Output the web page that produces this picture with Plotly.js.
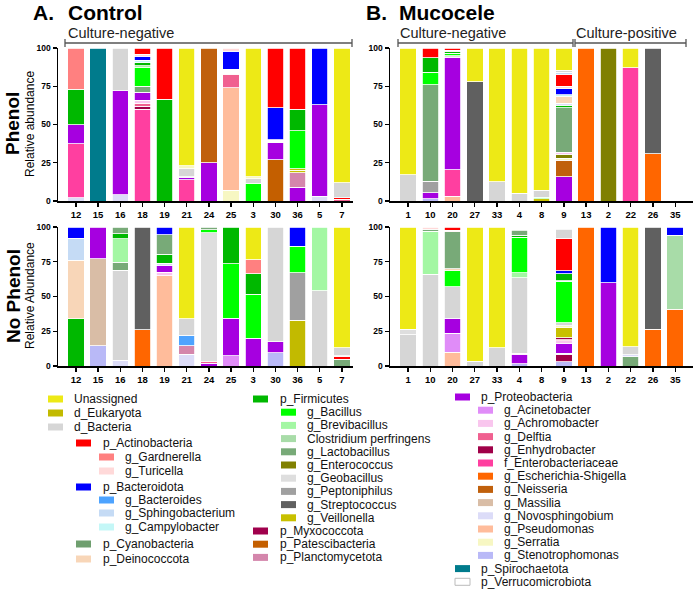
<!DOCTYPE html>
<html><head><meta charset="utf-8">
<script src="https://cdn.plot.ly/plotly-3.0.1.min.js"></script>
<style>html,body{margin:0;padding:0;background:#fff}#chart{width:700px;height:592px}</style>
</head><body><div id="chart"></div>
<script>
// ---------------- DATA ----------------
const controlSamples = ['12','15','16','18','19','21','24','25','3','30','36','5','7'];
const mucoceleSamples = ['1','10','20','27','33','4','8','9','13','2','22','26','35'];

// each bar: list of [taxon, relative abundance %] from bottom to top
const controlPhenol = [
  [['Nov',2],['Eba',35.5],['Pro',12.5],['Fir',23],['Gar',27]],
  [['Spi',100]],
  [['Nov',4],['Pro',68],['Bac',28]],
  [['Eba',60],['Enh',2],['Del',2],['Ach',2],['Pro',5],['Lac',4],['Bcl',12],['Brv',1.5],['Fir',2],['Cam',1.5],['Bct',2.5],['Tur',1.5],['Act',4]],
  [['Fir',66.5],['Act',33.5]],
  [['Eba',14],['Pro',1.5],['Ach',0.5],['Bac',5],['Ser',2],['U',77]],
  [['Pro',25],['Nei',75]],
  [['Ser',7],['Pse',67],['Del',9],['Ver',3],['Bct',12],['Tur',2]],
  [['Bcl',11.5],['Bac',3],['Ser',1.5],['U',84]],
  [['Pat',27],['Pro',11],['Ver',2],['Bct',21],['Act',39]],
  [['Pro',9],['Pla',9.5],['Vei',1.5],['Euk',1],['Bcl',25],['Fir',14],['Act',40]],
  [['Nov',3],['Pro',60],['Bct',37]],
  [['Del',1],['Act',1],['Bac',10],['U',88]]
];
const mucocelePhenol = [
  [['Bac',17],['U',83]],
  [['Ste',1.5],['Pro',4],['Pep',7.5],['Lac',63],['Bcl',8],['Fir',9.5],['Act',6.5]],
  [['Pse',3],['Eba',17.5],['Pro',73],['Geo',1.5],['Bcl',1.5],['Fir',1.5],['Tur',0.5],['Act',1.5]],
  [['Str',78],['U',22]],
  [['Bac',12.5],['U',87.5]],
  [['Bac',5],['U',95]],
  [['Vei',1.5],['Bcl',1],['Bac',4.5],['U',93]],
  [['Pro',16],['Nei',10.5],['Ser',1.5],['Ent',2.5],['Ach',1.5],['Lac',29],['Fir',1.5],['Nov',1.5],['Dei',4.5],['Cam',1],['Bct',4],['Tur',1.5],['Act',7.5],['Sph',1.5],['Bac',1.5],['U',14.5]],
  [['Esc',100]],
  [['Ent',100]],
  [['Eba',87],['U',13]],
  [['Esc',31],['Str',69]],
  []
];
const controlNoPhenol = [
  [['Fir',34],['Dei',42],['Sph',16],['Bct',8]],
  [['Ste',14.5],['Mas',62.5],['Pro',23]],
  [['Nov',4],['Bac',65],['Lac',5.5],['Brv',17],['Fir',3.5],['Lac',5]],
  [['Esc',26],['Str',74]],
  [['Pse',65],['Ach',2.5],['Pro',4.5],['Nov',2],['Fir',6.5],['Lac',14],['Bct',5.5]],
  [['Nov',8.5],['Pla',6],['Bcd',7.5],['Bac',12],['U',66]],
  [['Pro',2],['Del',1],['Geo',93],['Bcl',2],['Lac',2]],
  [['Aci',7.5],['Pro',27],['Bcl',39],['Fir',26.5]],
  [['Pro',20],['Bcl',31.5],['Fir',15],['Gar',10],['U',23.5]],
  [['Ste',9.5],['Pro',8],['Bac',82.5]],
  [['Euk',33],['Pep',34],['Bcl',19],['Bct',14]],
  [['Bac',54],['Brv',46]],
  [['Lac',5],['Act',1.5],['Tur',1],['Bac',5.5],['U',87]]
];
const mucoceleNoPhenol = [
  [['Bac',22.5],['Geo',4],['U',73.5]],
  [['Bac',66],['Brv',31],['Lac',1.5],['Tur',1.5]],
  [['Pse',10],['Aci',13.5],['Pro',11],['Bac',22.5],['Bcl',11.5],['Dei',1.5],['Lac',26.5],['Tur',1],['Act',2.5]],
  [['Bac',3.5],['U',96.5]],
  [['Bac',13],['U',87]],
  [['Ste',1.5],['Pro',6.5],['Ach',1],['Bac',54.5],['Brv',3.5],['Bcl',25.5],['Fir',1.5],['Lac',3.5]],
  [],
  [['Ste',3],['Enh',5],['Nov',1],['Pro',7.5],['Ach',1.5],['Del',1],['Myx',1.5],['Vei',7.5],['Ser',1],['Bac',2],['Bcl',29.5],['Cam',1],['Fir',5],['Bct',2],['Act',23.5],['Bac',6.5]],
  [['Esc',100]],
  [['Pro',60],['Bct',40]],
  [['Lac',6.5],['Nov',1.5],['Bac',6],['U',86]],
  [['Esc',26.5],['Str',73.5]],
  [['Esc',41],['Clo',53],['Bct',6]]
];

// legend labels (column by column)
const legendCol1 = [['U','Unassigned'],['Euk','d_Eukaryota'],['Bac','d_Bacteria'],['Act','p_Actinobacteria'],['Gar','g_Gardnerella'],['Tur','g_Turicella'],['Bct','p_Bacteroidota'],['Bcd','g_Bacteroides'],['Sph','g_Sphingobacterium'],['Cam','g_Campylobacter'],['Cya','p_Cyanobacteria'],['Dei','p_Deinococcota']];
const legendCol2 = [['Fir','p_Firmicutes'],['Bcl','g_Bacillus'],['Brv','g_Brevibacillus'],['Clo','Clostridium perfringens'],['Lac','g_Lactobacillus'],['Ent','g_Enterococcus'],['Geo','g_Geobacillus'],['Pep','g_Peptoniphilus'],['Str','g_Streptococcus'],['Vei','g_Veillonella'],['Myx','p_Myxococcota'],['Pat','p_Patescibacteria'],['Pla','p_Planctomycetota']];
const legendCol3 = [['Pro','p_Proteobacteria'],['Aci','g_Acinetobacter'],['Ach','g_Achromobacter'],['Del','g_Delftia'],['Enh','g_Enhydrobacter'],['Eba','f_Enterobacteriaceae'],['Esc','g_Escherichia-Shigella'],['Nei','g_Neisseria'],['Mas','g_Massilia'],['Nov','g_Novosphingobium'],['Pse','g_Pseudomonas'],['Ser','g_Serratia'],['Ste','g_Stenotrophomonas'],['Spi','p_Spirochaetota'],['Ver','p_Verrucomicrobiota']];

// ---------------- STYLE ----------------
const COLORS = {U:'#ede916',Euk:'#c2ba00',Bac:'#d6d6d6',Act:'#ff0000',Gar:'#ff8080',Tur:'#ffd9d9',Bct:'#0000ff',Bcd:'#4da3ff',Sph:'#c5dbf5',Cam:'#c4f7f7',Cya:'#6f9f6f',Dei:'#f8d6b8',
 Fir:'#00b800',Bcl:'#00ff00',Brv:'#a3f7a3',Clo:'#a8dca8',Lac:'#78aa78',Ent:'#808000',Geo:'#dedede',Pep:'#a0a0a0',Str:'#606060',Vei:'#c8c000',Myx:'#a0004c',Pat:'#c45f00',Pla:'#d486ac',
 Pro:'#a600e0',Aci:'#e08cf8',Ach:'#f9c6ee',Del:'#f06090',Enh:'#a00048',Eba:'#ff3fa0',Esc:'#ff6600',Nei:'#c0600c',Mas:'#d9bda6',Nov:'#dcdcf8',Pse:'#ffbc9b',Ser:'#f7f7c3',Ste:'#b9b9f7',Spi:'#007b8c',Ver:'#ffffff'};
const FONT = 'Liberation Sans, Arial, Helvetica, sans-serif';
const W = 700, H = 592;
const px = x => x / W, py = y => 1 - y / H;

const traces = [];
function addPanel(bars, samples, xa, ya) {
  const n = Math.max(...bars.map(b => b.length));
  for (let k = 0; k < n; k++) {
    traces.push({
      type: 'bar', x: samples,
      y: bars.map(b => b[k] ? b[k][1] : null),
      marker: {color: bars.map(b => b[k] ? COLORS[b[k][0]] : '#fff'), line: {color: '#fff', width: 0.8}},
      width: 0.74, xaxis: xa, yaxis: ya, hoverinfo: 'skip', showlegend: false
    });
  }
}
addPanel(controlPhenol, controlSamples, 'x', 'y');
addPanel(mucocelePhenol, mucoceleSamples, 'x2', 'y2');
addPanel(controlNoPhenol, controlSamples, 'x3', 'y3');
addPanel(mucoceleNoPhenol, mucoceleSamples, 'x4', 'y4');

function xax(x0, x1, anchor, r1) {
  return {domain: [px(x0), px(x1)], anchor: anchor, type: 'category', range: [-0.81, r1],
    showline: true, linecolor: '#000', linewidth: 2, ticks: 'outside', ticklen: 4, tickwidth: 1.3, tickcolor: '#000',
    tickfont: {family: FONT, size: 9.5, color: '#000', weight: 'bold'}, showgrid: false, zeroline: false, fixedrange: true};
}
function yax(y0, y1, anchor) {
  return {domain: [py(y0), py(y1)], anchor: anchor, range: [0, 100], tickvals: [0,25,50,75,100],
    showline: true, linecolor: '#000', linewidth: 1.5, ticks: 'outside', ticklen: 4, tickwidth: 1.3, tickcolor: '#000',
    tickfont: {family: FONT, size: 8.5, color: '#000', weight: 'bold'}, showgrid: false, zeroline: false, fixedrange: true};
}

const annotations = [];
const shapes = [];
function txt(x, y, text, size, opts) {
  annotations.push(Object.assign({xref: 'paper', yref: 'paper', x: px(x), y: py(y), text: text, showarrow: false,
    xanchor: 'left', yanchor: 'middle', borderpad: 0, font: {family: FONT, size: size, color: '#000'}}, opts || {}));
}
// titles
txt(32, 13, '<b>A.</b>', 21);
txt(67, 13, '<b>Control</b>', 21);
txt(365, 13, '<b>B.</b>', 21);
txt(398, 13, '<b>Mucocele</b>', 21);
txt(67, 33, 'Culture-negative', 14.5, {font: {family: FONT, size: 14.5, color: '#222'}});
txt(399, 33, 'Culture-negative', 14.5, {font: {family: FONT, size: 14.5, color: '#222'}});
txt(575, 33, 'Culture-positive', 14.5, {font: {family: FONT, size: 14.5, color: '#222'}});
function bracket(x0, x1, y) {
  shapes.push({type: 'line', xref: 'paper', yref: 'paper', x0: px(x0), x1: px(x1), y0: py(y), y1: py(y), line: {color: '#555', width: 1.3}});
  [x0, x1].forEach(x => shapes.push({type: 'line', xref: 'paper', yref: 'paper', x0: px(x), x1: px(x), y0: py(y - 4), y1: py(y + 4), line: {color: '#555', width: 1.3}}));
}
bracket(65, 352, 43);
bracket(398, 573, 43);
bracket(575, 686, 43);
// row titles
txt(13, 124, '<b>Phenol</b>', 19, {xanchor: 'center', textangle: -90});
txt(30, 124, 'Relative abundance', 12, {xanchor: 'center', textangle: -90});
txt(13, 296, '<b>No Phenol</b>', 19, {xanchor: 'center', textangle: -90});
txt(30, 296, 'Relative Abundance', 12, {xanchor: 'center', textangle: -90});

// legend
const LFS = 12;
function legendItem(key, label, sx, tx, y) {
  const isVer = key === 'Ver';
  shapes.push({type: 'rect', xref: 'paper', yref: 'paper', x0: px(sx), x1: px(sx + 15), y0: py(y + 3.5), y1: py(y - 3.5),
    fillcolor: COLORS[key], line: {color: isVer ? '#bbb' : COLORS[key], width: isVer ? 1 : 0}});
  txt(tx, y, label, LFS, {font: {family: FONT, size: LFS, color: '#111'}});
}
const col1Y = [399,413,427,443,457,471,487,500,513,527,544,559];
const col1Lvl = [0,0,0,1,2,2,1,2,2,2,1,1];
const c1S = [48, 76, 99], c1T = [73, 102, 124];
legendCol1.forEach((it, i) => legendItem(it[0], it[1], c1S[col1Lvl[i]], c1T[col1Lvl[i]], col1Y[i]));
const col2Lvl = [1,2,2,2,2,2,2,2,2,2,1,1,1];
legendCol2.forEach((it, i) => legendItem(it[0], it[1], col2Lvl[i] === 1 ? 253 : 281, col2Lvl[i] === 1 ? 279 : 306, 399 + i * 13.2));
const col3Lvl = [1,2,2,2,2,2,2,2,2,2,2,2,2,1,1];
legendCol3.forEach((it, i) => legendItem(it[0], it[1], col3Lvl[i] === 1 ? 455 : 478, col3Lvl[i] === 1 ? 480 : 503, 397 + i * 13.2));

const layout = {
  width: W, height: H, margin: {l: 0, r: 0, t: 0, b: 0}, barmode: 'stack', showlegend: false,
  paper_bgcolor: '#fff', plot_bgcolor: '#fff', font: {family: FONT},
  xaxis: xax(58, 353, 'y', 12.5), yaxis: yax(201, 48, 'x'),
  xaxis2: xax(390, 693, 'y2', 12.8), yaxis2: yax(201, 48, 'x2'),
  xaxis3: xax(58, 353, 'y3', 12.5), yaxis3: yax(366, 227, 'x3'),
  xaxis4: xax(390, 693, 'y4', 12.8), yaxis4: yax(366, 227, 'x4'),
  annotations: annotations, shapes: shapes
};
Plotly.newPlot('chart', traces, layout, {staticPlot: true, displayModeBar: false});
</script></body></html>
